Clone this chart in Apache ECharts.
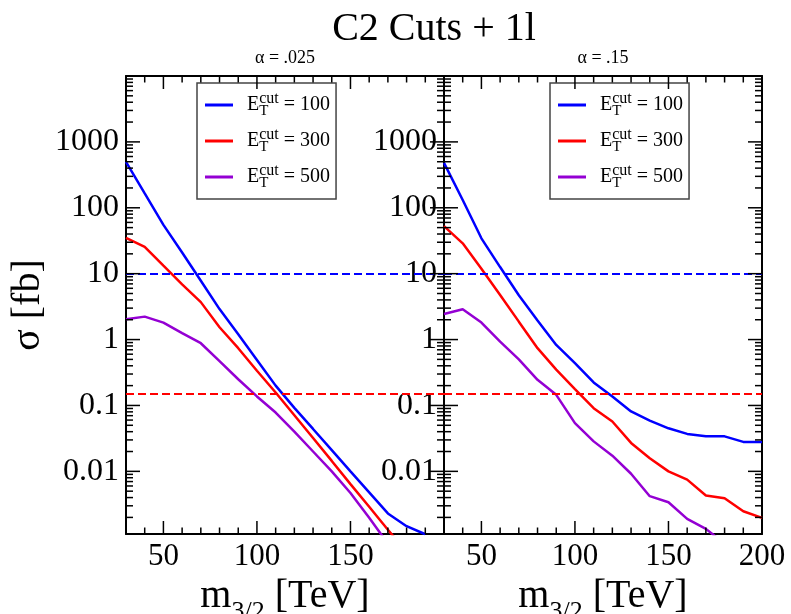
<!DOCTYPE html>
<html>
<head>
<meta charset="utf-8">
<title>C2 Cuts + 1l</title>
<script src="https://cdn.jsdelivr.net/npm/echarts@6/dist/echarts.min.js"></script>
<style>
  html, body { margin: 0; padding: 0; background: #fff; }
  #chart { width: 791px; height: 614px; }
</style>
</head>
<body>
<div id="chart"></div>
<script>
// C2 Cuts + 1l  - two panels, alpha = .025 and alpha = .15

const MASS = [30, 40, 50, 60, 70, 80, 90, 100, 110, 120, 130, 140, 150, 160, 170, 180, 190, 200];
const CUT_NAMES = ['100', '300', '500'];

// alpha = .025
const A025_E100 = [498, 165, 55, 21, 7.8, 2.9, 1.2, 0.49, 0.2, 0.092, 0.044, 0.021, 0.01, 0.0048, 0.0023, 0.00147, 0.00111, null];
const A025_E300 = [35, 25.6, 13.2, 6.9, 3.7, 1.54, 0.74, 0.336, 0.157, 0.071, 0.032, 0.0144, 0.0064, 0.0029, 0.0013, 0.0006, null, null];
const A025_E500 = [2.04, 2.23, 1.81, 1.25, 0.88, 0.47, 0.25, 0.137, 0.078, 0.04, 0.02, 0.01, 0.0047, 0.00197, 0.0008, null, null, null];

// alpha = .15
const A15_E100 = [481, 131, 34.4, 12.6, 4.7, 1.95, 0.83, 0.44, 0.224, 0.137, 0.081, 0.059, 0.045, 0.037, 0.034, 0.034, 0.028, 0.028];
const A15_E300 = [52.8, 28.9, 11.9, 4.75, 1.87, 0.74, 0.35, 0.177, 0.091, 0.057, 0.027, 0.0158, 0.01, 0.0075, 0.0043, 0.0039, 0.00248, 0.00197];
const A15_E500 = [2.45, 2.88, 1.81, 0.93, 0.5, 0.245, 0.145, 0.054, 0.0285, 0.0173, 0.0092, 0.0042, 0.0034, 0.0019, 0.00134, 0.0008, null, null];

// dashed reference levels (blue, red)
const LEVELS = [10, 0.15];

const X_MAJOR = [50, 100, 150, 200];
const X_MINOR = [40, 60, 70, 80, 90, 110, 120, 130, 140, 160, 170, 180, 190];
const X_LABELS = [[50, 100, 150], [50, 100, 150, 200]];
const Y_MAJOR = [0.01, 0.1, 1, 10, 100, 1000];
const Y_MIN = 0.00112, Y_MAX = 10000;
const Y_MINOR = [];
for (const d of [0.001, 0.01, 0.1, 1, 10, 100, 1000]) {
  for (let k = 2; k <= 9; k++) {
    const v = +(d * k).toPrecision(2);
    if (v > Y_MIN && v < Y_MAX) Y_MINOR.push(v);
  }
}

const FONT = '"Liberation Serif", "DejaVu Serif", serif';
const COLORS = ['#0000ff', '#ff0000', '#9400d3'];

const PANELS = [
  { title: 'α = .025', cx: 285, series: [A025_E100, A025_E300, A025_E500], legendLeft: 197 },
  { title: 'α = .15', cx: 603, series: [A15_E100, A15_E300, A15_E500], legendLeft: 550 },
];

function pairs(vals) {
  return MASS.map((m, i) => [m, vals[i]]).filter(p => p[1] != null);
}

function fmtY(v) {
  return String(+(+v).toPrecision(3));
}

// inward ticks on all four sides, placed through the axes' own scales
function tickSeries(gi, dim, values, len) {
  return {
    type: 'custom', xAxisIndex: gi * 2, yAxisIndex: gi * 2,
    silent: true, clip: false, z: 5,
    data: values.map(v => dim === 'x' ? [v, 1] : [30, v]),
    renderItem(params, api) {
      const style = { stroke: '#000', lineWidth: 1.5 };
      if (dim === 'x') {
        const v = api.value(0);
        const b = api.coord([v, Y_MIN]), t = api.coord([v, Y_MAX]);
        return { type: 'group', children: [
          { type: 'line', shape: { x1: b[0], y1: b[1], x2: b[0], y2: b[1] - len }, style },
          { type: 'line', shape: { x1: t[0], y1: t[1], x2: t[0], y2: t[1] + len }, style },
        ] };
      }
      const v = api.value(1);
      const l = api.coord([30, v]), r = api.coord([200, v]);
      return { type: 'group', children: [
        { type: 'line', shape: { x1: l[0], y1: l[1], x2: l[0] + len, y2: l[1] }, style },
        { type: 'line', shape: { x1: r[0], y1: r[1], x2: r[0] - len, y2: r[1] }, style },
      ] };
    },
  };
}

const AXIS_LINE = { show: true, onZero: false, lineStyle: { color: '#000', width: 2 } };

const grid = [], xAxis = [], yAxis = [], series = [], legend = [], graphic = [];

graphic.push({
  type: 'text', x: 434, y: 29,
  style: { text: 'C2 Cuts + 1l', font: '40px ' + FONT, fill: '#000', align: 'center', verticalAlign: 'middle' },
});

PANELS.forEach((p, gi) => {
  grid.push({ left: gi === 0 ? 126 : 444, top: 76, width: 318, height: 458, outerBoundsMode: 'none' });

  graphic.push({
    type: 'text', x: p.cx, y: 58,
    style: { text: p.title, font: '18px ' + FONT, fill: '#000', align: 'center', verticalAlign: 'middle' },
  });

  const xb = { type: 'value', gridIndex: gi, min: 30, max: 200, splitLine: { show: false },
    axisLine: AXIS_LINE, axisTick: { show: false } };
  xAxis.push(
    { ...xb, position: 'bottom',
      axisLabel: { customValues: X_LABELS[gi], margin: 7, color: '#000', fontFamily: FONT, fontSize: 31 },
      name: '{m|m}{s|3/2}{m| [TeV]}', nameLocation: 'middle', nameGap: 27,
      nameTextStyle: {
        color: '#000',
        rich: {
          m: { fontFamily: FONT, fontSize: 40, lineHeight: 56, color: '#000' },
          s: { fontFamily: FONT, fontSize: 26, lineHeight: 16, verticalAlign: 'bottom', color: '#000' },
        },
      } },
    { ...xb, position: 'top', axisLabel: { show: false } },
  );

  const yb = { type: 'log', logBase: 10, gridIndex: gi, min: Y_MIN, max: Y_MAX, splitLine: { show: false },
    axisLine: AXIS_LINE, axisTick: { show: false } };
  const yMain = { ...yb, position: 'left',
    axisLabel: { customValues: Y_MAJOR, margin: 7, color: '#000', fontFamily: FONT, fontSize: 32, formatter: fmtY } };
  if (gi === 0) {
    Object.assign(yMain, { name: 'σ [fb]', nameLocation: 'middle', nameGap: 78,
      nameTextStyle: { fontFamily: FONT, fontSize: 40, color: '#000' } });
  }
  yAxis.push(yMain, { ...yb, position: 'right', axisLabel: { show: false } });

  p.series.forEach((vals, k) => {
    const s = {
      type: 'line', name: CUT_NAMES[k], xAxisIndex: gi * 2, yAxisIndex: gi * 2,
      data: pairs(vals), symbol: 'none', clip: true,
      lineStyle: { width: 2.5, color: COLORS[k] }, itemStyle: { color: COLORS[k] },
    };
    if (k < 2) {
      s.markLine = {
        silent: true, symbol: 'none', label: { show: false },
        lineStyle: { color: COLORS[k], width: 1.8, type: [8, 4] },
        data: [{ yAxis: LEVELS[k] }],
      };
    }
    series.push(s);
  });

  series.push(
    tickSeries(gi, 'x', X_MAJOR, 13),
    tickSeries(gi, 'x', X_MINOR, 6.5),
    tickSeries(gi, 'y', Y_MAJOR, 14),
    tickSeries(gi, 'y', Y_MINOR, 7),
  );

  legend.push({
    orient: 'vertical', left: p.legendLeft, top: 83,
    padding: [8, 6, 8, 8], itemGap: 8, itemWidth: 28, itemHeight: 3, icon: 'rect',
    borderColor: '#444', borderWidth: 1.5, backgroundColor: '#fff',
    selectedMode: false,
    data: CUT_NAMES,
    formatter: name => `{e|E}{t|T}{c|cut}{v| = ${name}}`,
    textStyle: {
      color: '#000',
      rich: {
        e: { fontFamily: FONT, fontSize: 20, lineHeight: 28, padding: [0, 0, 0, 9], color: '#000' },
        t: { fontFamily: FONT, fontSize: 15, lineHeight: 15, width: 0, verticalAlign: 'bottom', color: '#000' },
        c: { fontFamily: FONT, fontSize: 16, lineHeight: 15, verticalAlign: 'top', color: '#000' },
        v: { fontFamily: FONT, fontSize: 20, lineHeight: 28, color: '#000' },
      },
    },
  });
});

const chart = echarts.init(document.getElementById('chart'));
chart.setOption({
  animation: false,
  backgroundColor: '#fff',
  grid, xAxis, yAxis, series, legend, graphic,
});
</script>
</body>
</html>
